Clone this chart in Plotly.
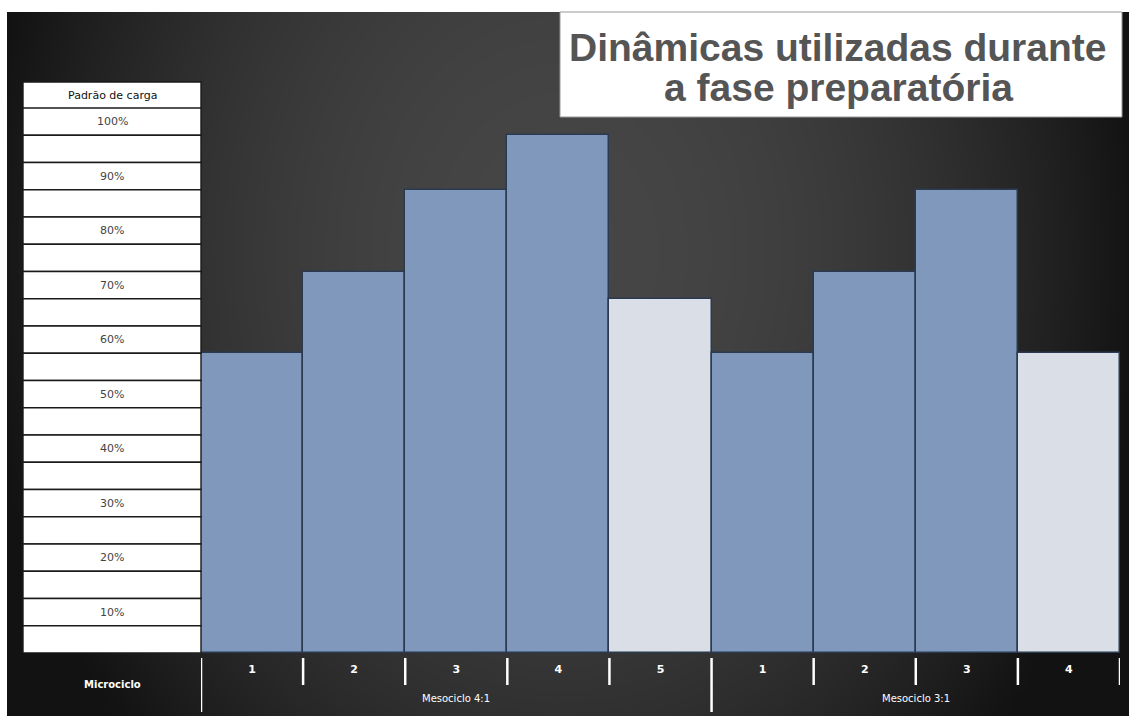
import numpy as np
import plotly.graph_objects as go

# --- data -------------------------------------------------------------
mesocycles = ["Mesociclo 4:1"] * 5 + ["Mesociclo 3:1"] * 4
microcycles = ["1", "2", "3", "4", "5", "1", "2", "3", "4"]
load_pct = [55, 70, 85, 95, 65, 55, 70, 85, 55]
scale_labels = ["100%", "90%", "80%", "70%", "60%", "50%", "40%", "30%", "20%", "10%"]
table_header = "Padrão de carga"
axis_caption = "Microciclo"
title_lines = ["Dinâmicas utilizadas durante", "a fase preparatória"]

# --- figure geometry (pixels) ----------------------------------------
W, H = 1129, 716


def px(x):
    return x / W


def py(y):
    return 1 - y / H


plot_left, plot_right = 201, 1120
plot_top, plot_bottom = 108, 653
x_dom = [px(plot_left), px(plot_right)]
y_dom = [py(plot_bottom), py(plot_top)]

BLUE = "#7f98bb"
LIGHT = "#d9dee7"
EDGE = "#2b3a50"

# last microcycle of each mesocycle is the unloading week
colors = []
for i, m in enumerate(mesocycles):
    last = i == len(mesocycles) - 1 or mesocycles[i + 1] != m
    colors.append(LIGHT if last else BLUE)

fig = go.Figure()

# dark vignette backdrop (full-figure heatmap on its own axes)
nx, ny = 60, 40
gx = np.linspace(7, W, nx)
gy = np.linspace(12, H, ny)
XX, YY = np.meshgrid(gx, gy)
d2 = ((XX - 560) / 580) ** 2 + ((YY - 250) / 720) ** 2
shade = 18 + 52 * np.clip(1 - d2, 0, 1)
fig.add_trace(go.Heatmap(
    x=gx, y=gy, z=shade, zmin=0, zmax=255, zsmooth="best",
    colorscale=[[0, "#000000"], [1, "#ffffff"]], showscale=False,
    hoverinfo="skip", xaxis="x", yaxis="y",
))

x_pos = list(range(len(load_pct)))
fig.add_trace(go.Bar(
    x=x_pos, y=load_pct, marker=dict(color=colors, line=dict(color=EDGE, width=1.5)),
    width=1.0, xaxis="x2", yaxis="y2", hoverinfo="skip",
))

fig.update_layout(
    width=W, height=H, margin=dict(l=0, r=0, t=0, b=0),
    paper_bgcolor="white", plot_bgcolor="rgba(0,0,0,0)",
    showlegend=False, bargap=0,
    xaxis=dict(domain=[px(7), 1], range=[7, W], visible=False, fixedrange=True),
    yaxis=dict(domain=[0, py(12)], range=[H, 12], visible=False, fixedrange=True),
    xaxis2=dict(domain=x_dom, range=[-0.5, len(load_pct) - 0.5], anchor="y2",
                showgrid=False, zeroline=False, showline=False, ticks="",
                tickvals=x_pos, ticktext=microcycles, ticklabelstandoff=8,
                tickfont=dict(family="DejaVu Sans", size=11, color="white", weight="bold")),
    yaxis2=dict(domain=y_dom, range=[0, 100], anchor="x2", visible=False),
)

shapes = []
annotations = []


def note(text, **kw):
    kw.setdefault("xanchor", "center")
    kw.setdefault("yanchor", "middle")
    kw.setdefault("showarrow", False)
    annotations.append(dict(text=text, **kw))


# load-scale table on the left
t_left, t_right = px(23), px(201)
t_mid = (t_left + t_right) / 2
shapes.append(dict(type="rect", xref="paper", yref="paper", x0=t_left, x1=t_right,
                   y0=py(108), y1=py(82), fillcolor="white",
                   line=dict(color="#1a1a1a", width=1.4), layer="above"))
note(table_header, xref="paper", yref="paper", x=t_mid, y=py(95),
     font=dict(family="DejaVu Sans", size=11, color="#111"))
for k in range(20):
    top = 100 - 5 * k
    shapes.append(dict(type="rect", xref="paper", yref="y2", x0=t_left, x1=t_right,
                       y0=top - 5, y1=top, fillcolor="white",
                       line=dict(color="#1a1a1a", width=1.4), layer="above"))
for i, lab in enumerate(scale_labels):
    v = 100 - 10 * i
    note(lab, xref="paper", yref="y2", x=t_mid, y=v - 2.5,
         font=dict(family="DejaVu Sans", size=11, color="#444"))

# microcycle separators below the axis (long ones start a mesocycle)
for b in range(len(load_pct) + 1):
    starts_meso = b == 0 or (b < len(mesocycles) and mesocycles[b] != mesocycles[b - 1])
    y_end = 712 if starts_meso else 685
    shapes.append(dict(type="line", xref="x2", yref="paper", x0=b - 0.5, x1=b - 0.5,
                       y0=py(658), y1=py(y_end), line=dict(color="white", width=2.5),
                       layer="above"))

note(axis_caption, xref="paper", yref="paper", x=t_mid, y=py(684),
     font=dict(family="DejaVu Sans", size=10, color="white", weight="bold"))

# mesocycle names centred under their groups
seen = []
for m in mesocycles:
    if m not in seen:
        seen.append(m)
for m in seen:
    idx = [i for i, v in enumerate(mesocycles) if v == m]
    note(m, xref="x2", yref="paper", x=(idx[0] + idx[-1]) / 2, y=py(698),
         font=dict(family="DejaVu Sans", size=10, color="white"))

# title box
shapes.append(dict(type="rect", xref="paper", yref="paper", x0=px(560), x1=px(1122),
                   y0=py(117), y1=py(12), fillcolor="white",
                   line=dict(color="#999", width=1), layer="above"))
for line_text, y_mid in zip(title_lines, [47, 88]):
    note(line_text, xref="paper", yref="paper", x=px(838), y=py(y_mid),
         font=dict(family="Liberation Sans", size=39, color="#555555", weight="bold"))

fig.update_layout(shapes=shapes, annotations=annotations)
fig.write_html("out.html")
